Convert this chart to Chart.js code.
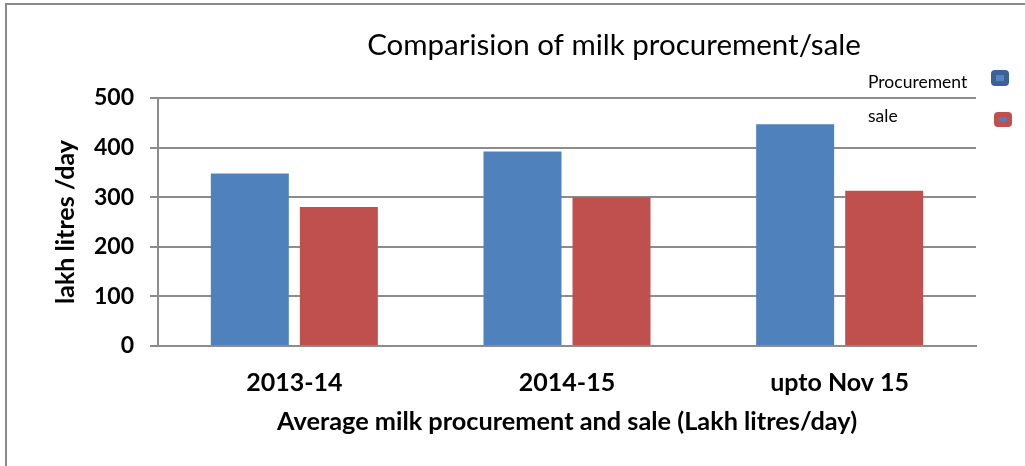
<!DOCTYPE html>
<html>
<head>
<meta charset="utf-8">
<script src="https://cdn.jsdelivr.net/npm/chart.js@4.4.0/dist/chart.umd.min.js"></script>
<style>
  html, body { margin: 0; padding: 0; background: #fff; }
  #wrap { width: 1025px; height: 466px; position: relative; }
</style>
</head>
<body>
<div id="wrap"><canvas id="milkChart" width="1025" height="466"></canvas></div>
<script>
const categories = ["2013-14", "2014-15", "upto Nov 15"];
const procurement = [348, 392, 447];
const sale = [280, 300, 313];
const yTicks = [0, 100, 200, 300, 400, 500];

const FONT = "Lato, 'Open Sans', sans-serif";
const gridGray = "#8c8c8c";

// frame, title and the legend on the right are drawn by hand
const decorPlugin = {
  id: "decor",
  beforeDraw(chart) {
    const ctx = chart.ctx;
    ctx.save();
    ctx.strokeStyle = "#8a8a8a";
    ctx.lineWidth = 2;
    ctx.strokeRect(6, 4, 1040, 500);
    ctx.restore();
  },
  afterDraw(chart) {
    const ctx = chart.ctx;
    ctx.save();
    ctx.fillStyle = "#000";
    ctx.font = "29.5px " + FONT;
    ctx.textAlign = "center";
    ctx.textBaseline = "middle";
    ctx.fillText("Comparision of milk procurement/sale", 614, 45);

    const items = [
      { y: 82, boxX: 991, boxY: 70, fill: "#3b6196", inner: "#5585c2" },
      { y: 116, boxX: 994, boxY: 112, fill: "#c0504d", inner: "#4f81bd" },
    ];
    ctx.font = "17.5px " + FONT;
    ctx.textAlign = "left";
    chart.data.datasets.forEach((ds, i) => {
      const it = items[i];
      ctx.fillStyle = "#000";
      ctx.fillText(ds.label, 868, it.y);
      ctx.beginPath();
      ctx.roundRect(it.boxX, it.boxY, 18, i === 0 ? 16 : 15, 4);
      ctx.fillStyle = it.fill;
      ctx.fill();
      ctx.fillStyle = it.inner;
      ctx.fillRect(it.boxX + 5, it.boxY + (i === 0 ? 5 : 5.5), 8, i === 0 ? 6 : 4);
    });
    ctx.restore();
  },
};

new Chart(document.getElementById("milkChart").getContext("2d"), {
  type: "bar",
  data: {
    labels: categories,
    datasets: [
      {
        label: "Procurement",
        data: procurement,
        backgroundColor: "#4f81bd",
        categoryPercentage: 0.653,
        barPercentage: 0.876,
      },
      {
        label: "sale",
        data: sale,
        backgroundColor: "#c0504d",
        categoryPercentage: 0.653,
        barPercentage: 0.876,
      },
    ],
  },
  options: {
    responsive: false,
    animation: false,
    layout: { padding: { top: 98, right: 49, left: 0, bottom: 0 } },
    plugins: {
      legend: { display: false },
      title: { display: false },
      tooltip: { enabled: false },
    },
    scales: {
      x: {
        grid: { display: false },
        border: { display: true, color: gridGray, width: 2 },
        ticks: {
          color: "#000",
          font: { family: FONT, size: 25, weight: "bold" },
          padding: 14,
        },
        title: {
          display: true,
          text: "Average milk procurement and sale (Lakh litres/day)",
          color: "#000",
          font: { family: FONT, size: 25.3, weight: "bold" },
          padding: { top: 0, bottom: 29 },
        },
        afterFit(scale) { scale.height = 120; },
      },
      y: {
        min: 0,
        max: 500,
        afterBuildTicks(scale) { scale.ticks = yTicks.map(v => ({ value: v })); },
        grid: { color: gridGray, lineWidth: 2, tickLength: 8 },
        border: { display: true, color: gridGray, width: 2 },
        ticks: {
          color: "#000",
          font: { family: FONT, size: 23, weight: "bold" },
          padding: 16,
        },
        title: {
          display: true,
          text: "lakh litres /day",
          color: "#000",
          font: { family: FONT, size: 25, weight: "bold" },
          padding: { top: 51, bottom: 0 },
        },
        afterFit(scale) { scale.width = 158; },
      },
    },
  },
  plugins: [decorPlugin],
});
</script>
</body>
</html>
